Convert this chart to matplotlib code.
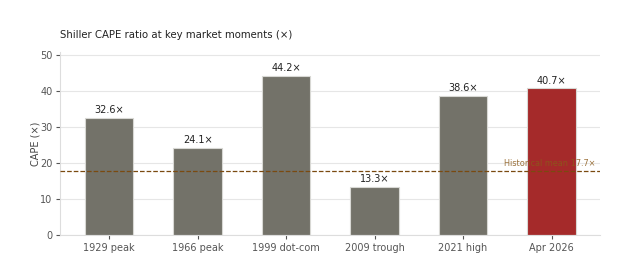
import matplotlib.pyplot as plt
import numpy as np

# Data
moments = ['1929 peak', '1966 peak', '1999 dot-com', '2009 trough', '2021 high', 'Apr 2026']
cape = [32.6, 24.1, 44.2, 13.3, 38.6, 40.7]
hist_mean = 17.7

colors = ['#a52a2a' if m == 'Apr 2026' else '#737269' for m in moments]

fig, ax = plt.subplots(figsize=(6.34, 2.67), dpi=100)
fig.subplots_adjust(left=0.095, right=0.947, top=0.805, bottom=0.12)

x = np.arange(len(moments))
ax.bar(x, cape, width=0.55, color=colors, edgecolor='#d8d8d4', linewidth=0.8, zorder=2)

for xi, v in zip(x, cape):
    ax.text(xi, v + 0.8, f'{v:.1f}×', ha='center', va='bottom', fontsize=7, color='#222222')

# Historical mean line
ax.axhline(hist_mean, color='#7a4a10', linestyle='--', linewidth=0.9, zorder=3)
ax.text(5.5, hist_mean + 0.8, f'Historical mean {hist_mean}×', ha='right', va='bottom',
        fontsize=5.9, color='#8b5a1a', alpha=0.85, zorder=4)

ax.set_xticks(x)
ax.set_xticklabels(moments)
ax.set_ylim(0, 50.8)
ax.set_yticks([0, 10, 20, 30, 40, 50])
ax.set_ylabel('CAPE (×)', fontsize=7, color='#444444', labelpad=0)
ax.set_title('Shiller CAPE ratio at key market moments (×)', loc='left', fontsize=7.3, color='#222222', pad=10)

ax.grid(axis='y', color='#e6e6e6', linewidth=0.8, zorder=0)
ax.set_axisbelow(True)
for s in ['top', 'right']:
    ax.spines[s].set_visible(False)
for s in ['left', 'bottom']:
    ax.spines[s].set_color('#dddddd')
ax.tick_params(axis='both', labelsize=7, colors='#555555', length=3, color='#555555', pad=2.5)

plt.savefig('out.png', dpi=100)
